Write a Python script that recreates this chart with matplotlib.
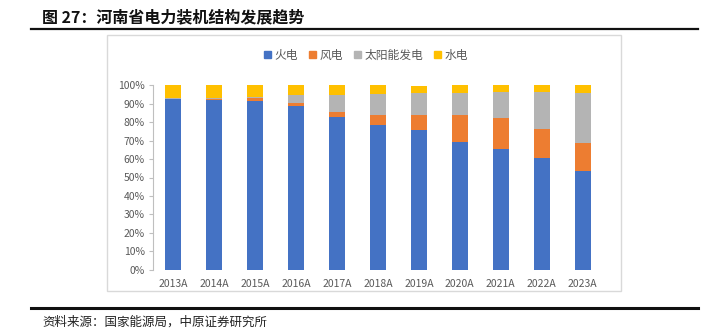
import numpy as np
import matplotlib.pyplot as plt
from matplotlib.patches import Rectangle
from matplotlib.lines import Line2D

plt.rcParams['font.family'] = ['Noto Sans CJK SC', 'DejaVu Sans']

years = ['2013A', '2014A', '2015A', '2016A', '2017A', '2018A', '2019A', '2020A', '2021A', '2022A', '2023A']
huodian = [92.6, 92.2, 91.7, 89.0, 82.8, 78.5, 75.8, 69.4, 65.6, 60.8, 53.3]
fengdian = [0.2, 0.7, 1.4, 1.4, 2.9, 5.6, 8.3, 14.8, 16.6, 15.7, 15.7]
taiyang = [0.5, 0.2, 0.9, 4.2, 9.0, 11.2, 11.6, 11.8, 14.1, 19.7, 27.1]
shuidian = [6.7, 6.9, 6.0, 5.4, 5.3, 4.7, 4.3, 4.0, 3.7, 3.8, 3.9]

names = ['火电', '风电', '太阳能发电', '水电']
colors = ['#4472C4', '#ED7D31', '#B4B4B4', '#FFC000']
series = [huodian, fengdian, taiyang, shuidian]

W, H = 727, 330
fig = plt.figure(figsize=(7.27, 3.30), dpi=100)

# chart frame
fig.patches.append(Rectangle((107 / W, 1 - 291 / H), 514 / W, 256 / H, transform=fig.transFigure,
                             facecolor='white', edgecolor='#d9d9d9', lw=1, zorder=-5))

ax = fig.add_axes([153 / W, 1 - 269.5 / H, 450 / W, 184 / H])
ax.set_zorder(2)
x = np.arange(len(years))
bottom = np.zeros(len(years))
for vals, c, n in zip(series, colors, names):
    v = np.array(vals)
    ax.bar(x, v, 0.39, bottom=bottom, color=c, label=n)
    bottom += v

ax.set_xlim(-0.5, len(years) - 0.5)
ax.set_ylim(0, 100)
ax.set_yticks(np.arange(0, 101, 10))
ax.set_yticklabels([f'{t}%' for t in range(0, 101, 10)])
ax.set_xticks(x)
ax.set_xticklabels(years)
ax.tick_params(axis='y', labelsize=7.5, colors='#bfbfbf', labelcolor='#595959', length=3, width=0.8, pad=3)
ax.tick_params(axis='x', labelsize=7.5, labelcolor='#595959', length=0, pad=7)
for s in ['top', 'right', 'bottom']:
    ax.spines[s].set_visible(False)
ax.spines['left'].set_color('#bfbfbf')
ax.spines['left'].set_linewidth(0.8)
ax.patch.set_alpha(0)

handles = [Rectangle((0, 0), 1, 1, color=c) for c in colors]
fig.legend(handles, names, loc='center', bbox_to_anchor=(366 / W, 1 - 55 / H), ncol=4, frameon=False,
           fontsize=8.5, handlelength=0.6, handleheight=0.6, handletextpad=0.3, columnspacing=0.9,
           labelcolor='#595959')

# title and source
fig.text(42 / W, 1 - 17 / H, '图 27：河南省电力装机结构发展趋势', fontsize=11.5, fontweight='bold',
         va='center', ha='left', color='#111111')
fig.lines.append(Line2D([31 / W, 698 / W], [1 - 29 / H] * 2, transform=fig.transFigure, color='#111111', lw=1.6))
fig.lines.append(Line2D([31 / W, 698 / W], [1 - 308 / H] * 2, transform=fig.transFigure, color='#111111', lw=2.2))
fig.text(42 / W, 1 - 322 / H, '资料来源：国家能源局，中原证券研究所', fontsize=9, va='center', ha='left', color='#222222')

fig.savefig('out.png', dpi=100)
